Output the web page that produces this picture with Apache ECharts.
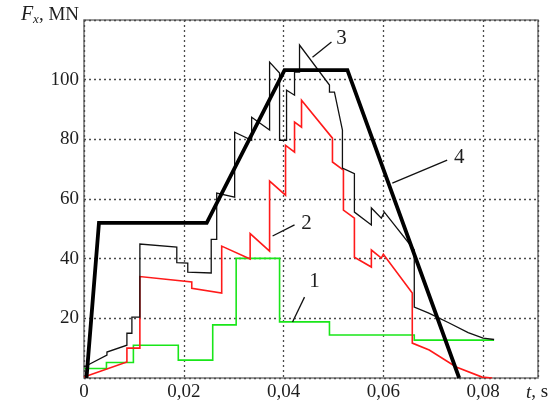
<!DOCTYPE html>
<html>
<head>
<meta charset="utf-8">
<script src="https://cdn.jsdelivr.net/npm/echarts@6/dist/echarts.min.js"></script>
<style>
  html, body { margin: 0; padding: 0; background: #fff; }
  #chart { width: 553px; height: 409px; }
</style>
</head>
<body>
<div id="chart"></div>
<script>
// tick values
const xTicks = [0, 0.02, 0.04, 0.06, 0.08]
const yTicks = [0, 20, 40, 60, 80, 100]

// curve 1 (green) [t, F]
const curve1 = [
  [0, 3.2], [0.0045, 3.2], [0.0045, 5.2], [0.0099, 5.2], [0.0099, 11.0],
  [0.0189, 11.0], [0.0189, 6.0], [0.0258, 6.0], [0.0258, 17.8], [0.0305, 17.8],
  [0.0305, 40.1], [0.0392, 40.1], [0.0392, 18.8], [0.0492, 18.8], [0.0492, 14.4],
  [0.0662, 14.4], [0.0662, 12.7], [0.0822, 12.7]
]

// curve 2 (red)
const curve2 = [
  [0, 0.3], [0.0086, 5.4], [0.0086, 10], [0.0112, 10], [0.0112, 34],
  [0.0216, 32.2], [0.0216, 30.1], [0.0276, 28.5], [0.0276, 44.2], [0.0333, 39.9],
  [0.0333, 48.4], [0.0372, 42.5], [0.0372, 66], [0.0404, 61.3], [0.0404, 78],
  [0.0422, 75.7], [0.0422, 85.8], [0.0436, 84.1], [0.0436, 93.1], [0.0498, 80.4],
  [0.0498, 72.4], [0.0520, 69.7], [0.0520, 56.3], [0.0542, 53.6], [0.0542, 40.5],
  [0.0576, 37.2], [0.0576, 42.9], [0.0596, 40.2], [0.0600, 41.5], [0.0658, 28.5],
  [0.0658, 11.7], [0.0692, 9.4], [0.0746, 3.7], [0.0798, 0.3], [0.0818, 0]
]

// curve 3 (thin black)
const curve3 = [
  [0, 3.7], [0.0046, 7.7], [0.0046, 8.7], [0.0086, 11], [0.0086, 15],
  [0.0096, 15], [0.0096, 20.4], [0.0112, 20.4], [0.0112, 44.9], [0.0186, 43.9],
  [0.0186, 38.7], [0.0208, 38.5], [0.0208, 35.5], [0.0255, 35.2], [0.0255, 46.5],
  [0.0266, 46.5], [0.0266, 62], [0.0302, 60.6], [0.0302, 82.4], [0.0336, 79.7],
  [0.0336, 87.4], [0.0372, 83.1], [0.0372, 105.9], [0.0392, 102.2], [0.0392, 79.7],
  [0.0406, 79.7], [0.0406, 96.5], [0.0422, 94.8], [0.0422, 102.5], [0.0432, 102.5],
  [0.0432, 111.6], [0.0492, 98.2], [0.0492, 95.8], [0.0502, 95.8], [0.0518, 83.1],
  [0.0518, 70.4], [0.0542, 68.5], [0.0542, 55.6], [0.0576, 51.3], [0.0576, 57],
  [0.0596, 53.6], [0.0602, 55.6], [0.0662, 42.9], [0.0662, 23.8], [0.0690, 21.8],
  [0.0730, 18.6], [0.0770, 15.2], [0.0800, 13.4], [0.0822, 12.9]
]

// curve 4 (thick black)
const curve4 = [
  [0.0005, 0], [0.003, 52], [0.0246, 52], [0.0402, 103.2], [0.0528, 103.2], [0.0752, 0]
]

// curve number labels: position of text, leader start, leader end
const curveLabels = [
  { name: '1', at: [0.0462, 32.2], from: [0.0418, 18.8], to: [0.0442, 27.1] },
  { name: '2', at: [0.0446, 51.9], from: [0.0378, 47.6], to: [0.0422, 51.3] },
  { name: '3', at: [0.0516, 113.9], from: [0.0458, 107.5], to: [0.0496, 112.6] },
  { name: '4', at: [0.0752, 74.0], from: [0.0618, 65.3], to: [0.0728, 73.0] }
]

const serif = '"Liberation Serif", "DejaVu Serif", serif'
const textColor = '#1e1e1e'
const fs = 19
const gridLine = { show: true, lineStyle: { color: '#4a4a4a', width: 1.3, type: [2, 3] } }

const chart = echarts.init(document.getElementById('chart'))

function annot(i) {
  const c = curveLabels[i]
  return {
    markLine: {
      silent: true,
      symbol: 'none',
      label: { show: false },
      lineStyle: { color: '#111', width: 1.3, type: 'solid' },
      data: [[{ coord: c.from }, { coord: c.to }]]
    },
    markPoint: {
      silent: true,
      symbol: 'circle',
      symbolSize: 0,
      label: {
        show: true, position: 'inside', formatter: c.name,
        fontFamily: serif, fontSize: 21, color: textColor
      },
      data: [{ coord: c.at }]
    }
  }
}

function lineSeries(data, color, width, i) {
  return Object.assign({
    type: 'line',
    data: data,
    showSymbol: false,
    symbol: 'none',
    animation: false,
    lineStyle: { color: color, width: width, join: 'miter' },
    z: 2 + i
  }, annot(i))
}

chart.setOption({
  animation: false,
  grid: {
    left: 84, right: 15, top: 20, bottom: 31,
    show: true, borderColor: '#777', borderWidth: 1.6, backgroundColor: '#fff'
  },
  xAxis: {
    type: 'value',
    min: 0, max: 0.091, interval: 0.02,
    name: '{i|t}, s',
    nameLocation: 'end',
    nameGap: -12,
    nameTextStyle: {
      fontFamily: serif, fontSize: fs, color: textColor,
      align: 'left', verticalAlign: 'top', padding: [5, 0, 0, 0],
      rich: { i: { fontFamily: serif, fontSize: fs, fontStyle: 'italic', color: textColor } }
    },
    axisLine: { show: false },
    axisTick: { show: false },
    splitLine: gridLine,
    axisLabel: {
      margin: 5, showMaxLabel: false,
      fontFamily: serif, fontSize: fs, color: textColor,
      formatter: v => xTicks.includes(+v.toFixed(2)) ? (v === 0 ? '0' : v.toFixed(2).replace('.', ',')) : ''
    }
  },
  yAxis: {
    type: 'value',
    min: 0, max: 120, interval: 20,
    name: '{f|F}{s|x}, MN',
    nameLocation: 'end',
    nameGap: 5,
    nameTextStyle: {
      fontFamily: serif, fontSize: fs, color: textColor,
      align: 'right', verticalAlign: 'middle', padding: [0, 5, 0, 0],
      rich: {
        f: { fontFamily: serif, fontSize: 20, fontStyle: 'italic', color: textColor, lineHeight: 22, verticalAlign: 'middle' },
        s: { fontFamily: serif, fontSize: 13, fontStyle: 'italic', color: textColor, lineHeight: 22, verticalAlign: 'bottom', padding: [9, 0, 0, 0] }
      }
    },
    axisLine: { show: false },
    axisTick: { show: false },
    splitLine: gridLine,
    axisLabel: {
      margin: 5, showMinLabel: false, showMaxLabel: false,
      fontFamily: serif, fontSize: fs, color: textColor,
      formatter: v => yTicks.includes(v) ? String(v) : ''
    }
  },
  series: [
    lineSeries(curve1, '#19e619', 1.6, 0),
    lineSeries(curve2, '#ff1a1a', 1.6, 1),
    lineSeries(curve3, '#111', 1.3, 2),
    lineSeries(curve4, '#000', 3.8, 3)
  ]
})

window.addEventListener('resize', () => chart.resize())
</script>
</body>
</html>
